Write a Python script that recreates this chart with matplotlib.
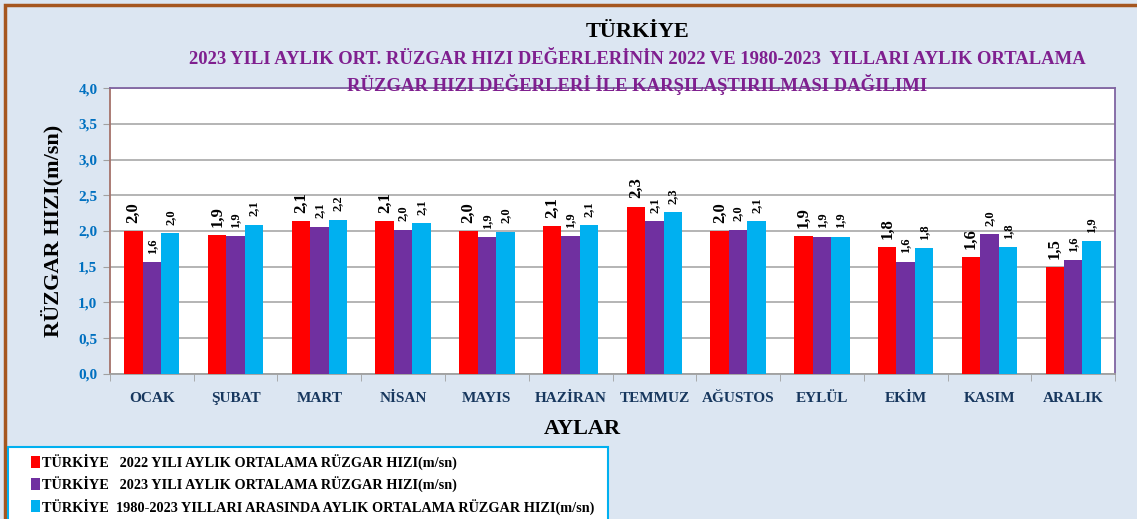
import matplotlib.pyplot as plt
import numpy as np
from matplotlib.patches import Rectangle, Patch

aylar = ["OCAK", "ŞUBAT", "MART", "NİSAN", "MAYIS", "HAZİRAN",
         "TEMMUZ", "AĞUSTOS", "EYLÜL", "EKİM", "KASIM", "ARALIK"]
hiz_2022 = [2.00, 1.94, 2.14, 2.14, 2.00, 2.07, 2.34, 2.00, 1.93, 1.77, 1.63, 1.49]
hiz_2023 = [1.56, 1.93, 2.06, 2.02, 1.91, 1.93, 2.14, 2.02, 1.92, 1.57, 1.96, 1.59]
hiz_uzun = [1.97, 2.09, 2.16, 2.11, 1.99, 2.08, 2.26, 2.14, 1.92, 1.76, 1.77, 1.86]
etiketler = ["TÜRKİYE   2022 YILI AYLIK ORTALAMA RÜZGAR HIZI(m/sn)",
             "TÜRKİYE   2023 YILI AYLIK ORTALAMA RÜZGAR HIZI(m/sn)",
             "TÜRKİYE  1980-2023 YILLARI ARASINDA AYLIK ORTALAMA RÜZGAR HIZI(m/sn)"]
renkler = ["#FF0000", "#7030A0", "#00B0F0"]
yticks = [0.0, 0.5, 1.0, 1.5, 2.0, 2.5, 3.0, 3.5, 4.0]

plt.rcParams['font.family'] = ['Liberation Serif', 'DejaVu Serif']
plt.rcParams['font.weight'] = 'bold'

fig = plt.figure(figsize=(11.37, 5.19), dpi=100)
fig.patch.set_facecolor("#DCE6F2")
# outer frame
fig.patches.append(Rectangle((0.004, -0.02), 1.1, 1.01, transform=fig.transFigure,
                             fill=False, edgecolor="#A5561F", lw=2.5))

ax = fig.add_axes([0.0967, 0.2794, 0.884, 0.551])
x = np.arange(len(aylar))
w = 0.22
seriler = [hiz_2022, hiz_2023, hiz_uzun]
for i, (vals, c) in enumerate(zip(seriler, renkler)):
    bars = ax.bar(x + (i - 1) * w, vals, w, color=c, zorder=3)
    fs = 12 if i == 0 else 9
    ax.bar_label(bars, labels=[f"{v:.1f}".replace('.', ',') for v in vals],
                 rotation=90, padding=6, fontsize=fs, fontweight='bold', color='black')

ax.set_xlim(-0.5, len(aylar) - 0.5)
ax.set_ylim(0, 4)
ax.set_yticks(yticks)
ax.set_yticklabels([f"{t:.1f}".replace('.', ',') for t in yticks],
                   color="#0070C0", fontsize=11, fontweight='bold')
ax.set_xticks(x)
ax.set_xticklabels(aylar, color="#17375E", fontsize=11, fontweight='bold')
ax.set_xticks(np.arange(len(aylar) + 1) - 0.5, minor=True)
ax.tick_params(axis='x', which='major', length=0, pad=13)
ax.tick_params(axis='x', which='minor', length=5, color="#A0A0A0")
ax.tick_params(axis='y', length=5, color="#A0A0A0", pad=4)
ax.grid(axis='y', color="#A8A8A8", lw=1.2, zorder=0)
ax.spines['left'].set_color("#A5726A")
ax.spines['bottom'].set_color("#A0A0A0")
ax.spines['top'].set_color("#8064A2")
ax.spines['right'].set_color("#8064A2")
for s in ax.spines.values():
    s.set_linewidth(1.3)

ax.set_xlabel("AYLAR", fontsize=16, fontweight='bold')
ax.xaxis.set_label_coords(0.47, -0.158)
ax.set_ylabel("RÜZGAR HIZI(m/sn)", fontsize=16, fontweight='bold')
ax.yaxis.set_label_coords(-0.046, 0.5)

fig.text(0.5605, 0.938, "TÜRKİYE", ha='center', va='center', fontsize=16, fontweight='bold')
fig.text(0.5605, 0.885, "2023 YILI AYLIK ORT. RÜZGAR HIZI DEĞERLERİNİN 2022 VE 1980-2023  YILLARI AYLIK ORTALAMA",
         ha='center', va='center', fontsize=13.4, fontweight='bold', color="#7F1F8F")
fig.text(0.5605, 0.838, "RÜZGAR HIZI DEĞERLERİ İLE KARŞILAŞTIRILMASI DAĞILIMI",
         ha='center', va='center', fontsize=13.4, fontweight='bold', color="#7F1F8F")

# legend box
fig.patches.append(Rectangle((8 / 1137, -0.02), 600 / 1137, (72 / 519) + 0.02,
                             transform=fig.transFigure, facecolor='white',
                             edgecolor="#00B0F0", lw=1.5))
handles = [Patch(facecolor=c, label=l) for c, l in zip(renkler, etiketler)]
leg = fig.legend(handles=handles, loc='upper left', bbox_to_anchor=(31 / 1137, 1 - 454 / 519),
                 fontsize=10.3, frameon=False,
                 handlelength=0.6, handleheight=0.9, handletextpad=0.15,
                 borderaxespad=0.0, labelspacing=0.42, borderpad=0.0)
for t in leg.get_texts():
    t.set_fontweight('bold')

fig.savefig("out.png", dpi=100, facecolor=fig.get_facecolor())
